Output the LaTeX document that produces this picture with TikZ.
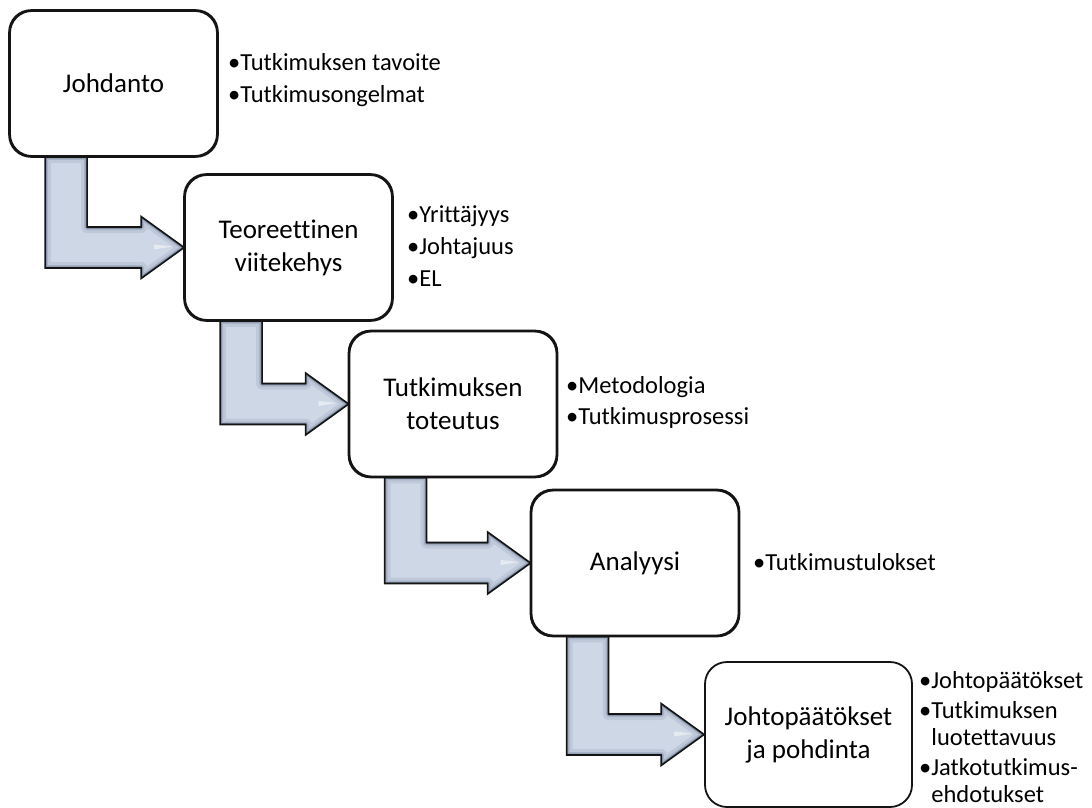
\documentclass[tikz,border=0pt]{standalone}
\usepackage{fontspec}
\setmainfont{Carlito}[Ligatures={NoCommon}]
\usetikzlibrary{calc}

\definecolor{arrowfill}{RGB}{206,215,230}
\definecolor{bevelA}{RGB}{190,200,217}
\definecolor{bevelB}{RGB}{166,178,198}
\definecolor{bevelC}{RGB}{115,127,148}
\definecolor{outline}{RGB}{20,20,20}

\tikzset{
  stagebox/.style={draw=outline, line width=1.8pt, rounded corners=22pt, fill=white,
    minimum width=207pt, minimum height=145pt, inner sep=0pt, align=center,
    font=\fontsize{27}{33}\selectfont},
  notetext/.style={anchor=west, align=left, inner sep=0pt,
    font=\fontsize{24.5}{28}\selectfont},
}

% bent block arrow from the bottom of box #1 to the left side of box #2
\newcommand\bentarrow[2]{%
  \coordinate (sa) at ($(#1.south west)+(36,0)$);
  \coordinate (sb) at ($(#1.south west)+(78,0)$);
  \coordinate (tp) at (#2.west);
  \coordinate (hu) at ($(tp)+(-43,-31)$);
  \coordinate (hd) at ($(tp)+(-43,31)$);
  \coordinate (su) at ($(tp)+(0,-20.5)$);
  \coordinate (sd) at ($(tp)+(0,20.5)$);
  \fill[arrowfill] (sa) -- (sb) -- (sb |- su) -- (hu |- su) -- (hu) -- (tp) -- (hd) -- (hd |- sd) -- (sa |- sd) -- cycle;
  \begin{scope}
    \clip (sa) -- (sb) -- (sb |- su) -- (hu |- su) -- (hu) -- (tp) -- (hd) -- (hd |- sd) -- (sa |- sd) -- cycle;
    \draw[bevelA, line width=12pt, line join=round] (sa) -- (sb) -- (sb |- su) -- (hu |- su) -- (hu) -- (tp) -- (hd) -- (hd |- sd) -- (sa |- sd) -- cycle;
    \draw[bevelB, line width=6pt, line join=round] (sa) -- (sb) -- (sb |- su) -- (hu |- su) -- (hu) -- (tp) -- (hd) -- (hd |- sd) -- (sa |- sd) -- cycle;
    \draw[bevelC, line width=3pt, line join=round] (sa) -- (sb) -- (sb |- su) -- (hu |- su) -- (hu) -- (tp) -- (hd) -- (hd |- sd) -- (sa |- sd) -- cycle;
    \fill[white, opacity=0.5] ($(tp)+(-30,-3)$) -- ($(tp)+(-12,-1)$) -- ($(tp)+(-30,2)$) -- cycle;
  \end{scope}
  \draw[outline, line width=1.6pt, line join=miter] (sa) -- (sb) -- (sb |- su) -- (hu |- su) -- (hu) -- (tp) -- (hd) -- (hd |- sd) -- (sa |- sd) -- cycle;
}

\begin{document}
\begin{tikzpicture}[x=1pt, y=-1pt]
  \useasboundingbox (0,0) rectangle (1092,808);

  % stage boxes
  \path (113.5,83.5) coordinate (c1) (288.5,247.5) coordinate (c2) (453,404) coordinate (c3)
        (635,563) coordinate (c4) (808.5,734.5) coordinate (c5);
  \node[stagebox] (box1) at (c1) {Johdanto};
  \node[stagebox] (box2) at (c2) {Teoreettinen\\viitekehys};
  \node[stagebox] (box3) at (c3) {Tutkimuksen\\toteutus};
  \node[stagebox] (box4) at (c4) {Analyysi};
  \node[stagebox] (box5) at (c5) {Johtopäätökset\\ja pohdinta};

  % connecting arrows
  \bentarrow{box1}{box2}
  \bentarrow{box2}{box3}
  \bentarrow{box3}{box4}
  \bentarrow{box4}{box5}

  % redraw box outlines over the arrow tails
  \foreach \b in {box1,box2,box3,box4} {
    \draw[outline, line width=1.8pt, rounded corners=22pt] (\b.south west) rectangle (\b.north east);
  }

  % bullet lists beside the boxes
  \node[notetext] (note1) at (228,80) {•Tutkimuksen tavoite\\[4pt]•Tutkimusongelmat};
  \node[notetext] (note2) at (407,246) {•Yrittäjyys\\[4pt]•Johtajuus\\[4pt]•EL};
  \node[notetext] (note3) at (566,402) {•Metodologia\\[3pt]•Tutkimusprosessi};
  \node[notetext] (note4) at (753,562) {•Tutkimustulokset};
  \node[notetext, font=\fontsize{24.5}{27}\selectfont] (note5) at (919,737)
    {•Johtopäätökset\\[3pt]•Tutkimuksen\\\phantom{•}luotettavuus\\[3pt]•Jatkotutkimus-\\\phantom{•}ehdotukset};
\end{tikzpicture}
\end{document}
